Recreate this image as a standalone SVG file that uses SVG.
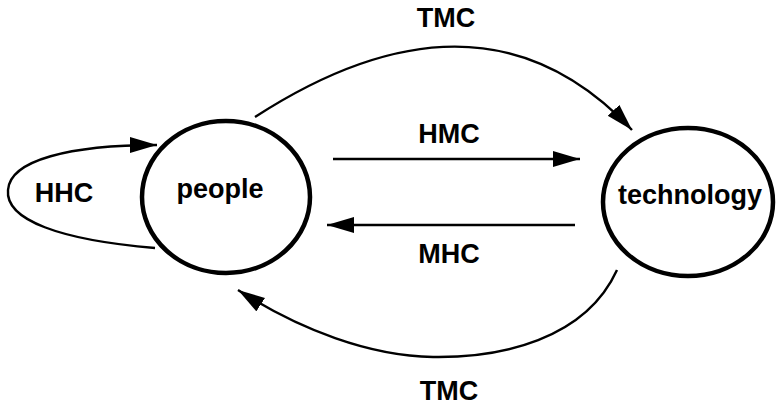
<svg xmlns="http://www.w3.org/2000/svg" width="778" height="409" viewBox="0 0 778 409">
<style>
.node{fill:none;stroke:#000;stroke-width:4.5}
.lbl{font-family:"Liberation Sans",Arial,sans-serif;font-weight:bold;font-size:27px;fill:#000;text-anchor:middle}
.edge{fill:none;stroke:#000;stroke-width:2.4;marker-end:url(#ah)}
</style>
<defs>
<marker id="ah" markerUnits="userSpaceOnUse" markerWidth="30" markerHeight="18" refX="27" refY="8" orient="auto">
<path d="M0,0 L27,8 L0,16 z" fill="#000"/>
</marker>
</defs>
<rect width="778" height="409" fill="#fff"/>
<g id="people">
<ellipse class="node" cx="226" cy="197" rx="84" ry="76"/>
<text class="lbl" x="220" y="198">people</text>
</g>
<g id="technology">
<ellipse class="node" cx="688" cy="202" rx="85" ry="74"/>
<text class="lbl" x="690" y="204">technology</text>
</g>
<g id="connectors">
<path class="edge" d="M255,117 Q482,-30 632,130"/>
<path class="edge" d="M333,159 L580,159"/>
<path class="edge" d="M575,225 L327,225"/>
<path class="edge" d="M617,270 C585,340 500,358 433,357 C370,356 300,330 238,290"/>
<path class="edge" d="M155,248 C60,240 5,220 8,190 C10,160 70,145 157,145"/>
</g>
<g id="labels">
<text class="lbl" x="446" y="27">TMC</text>
<text class="lbl" x="449" y="143">HMC</text>
<text class="lbl" x="449" y="263">MHC</text>
<text class="lbl" x="449" y="400">TMC</text>
<text class="lbl" x="64" y="202">HHC</text>
</g>
</svg>
